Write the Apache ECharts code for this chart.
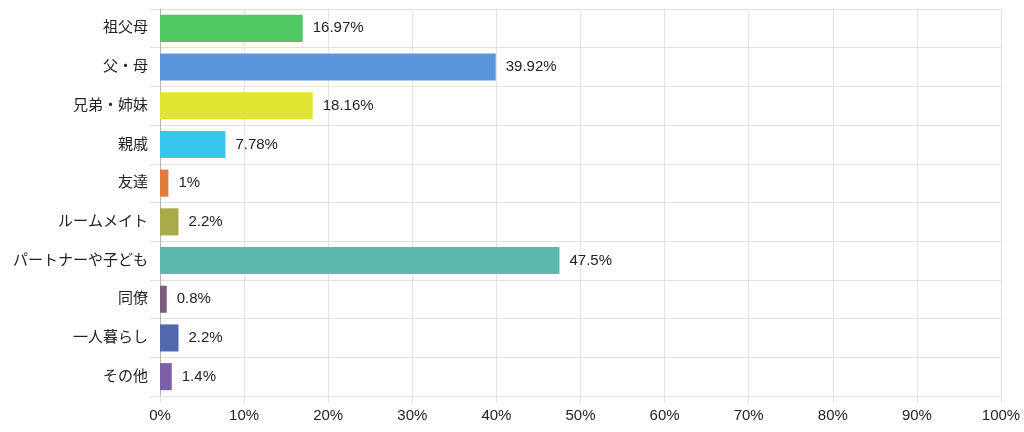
<!DOCTYPE html>
<html>
<head>
    <meta charset="utf-8">
    <title>ECharts</title>
    <style>
        html,body{margin:0;padding:0;background:#fff;}
    </style>
</head>
<body>
<div id="main" style="width:1024px;height:432px;"></div>
</body>
<script src="https://cdn.jsdelivr.net/npm/echarts@6/dist/echarts.min.js" type="text/javascript"></script>
<script type="text/javascript">

var categories=['祖父母','父・母','兄弟・姉妹','親戚','友達','ルームメイト','パートナーや子ども','同僚','一人暮らし','その他'];
var values=[16.97,39.92,18.16,7.78,1,2.2,47.5,0.8,2.2,1.4];
var colors=['#4fc763','#5b96da','#e1e531','#38c6ef','#e27c3b','#a9aa4b','#5bbaab','#7b5c7b','#5069ab','#7c5fa8'];

var myChart=echarts.init(document.getElementById('main'));

var data=[];
for(i=0;i<values.length;i++){
    data.push({value:values[i],itemStyle:{color:colors[i]}});
}

var font='Arial, "Liberation Sans", "Noto Sans CJK JP", sans-serif';

var option={
    animation:false,
    grid:{left:160,right:23,top:9,bottom:36},
    xAxis:{
        type:'value',
        min:0,
        max:100,
        interval:10,
        axisLabel:{formatter:'{value}%',color:'#222',fontSize:15,fontFamily:font,margin:12},
        axisLine:{show:false},
        axisTick:{show:true,length:7,lineStyle:{color:'#e3e3e3'}},
        splitLine:{lineStyle:{color:'#e3e3e3'}}
    },
    yAxis:{
        type:'category',
        inverse:true,
        data:categories,
        axisLabel:{color:'#222',fontSize:15,fontFamily:font,margin:12},
        axisLine:{lineStyle:{color:'#b5b5b5'}},
        axisTick:{show:true,length:10,lineStyle:{color:'#e3e3e3'}},
        splitLine:{show:true,lineStyle:{color:'#e3e3e3'}}
    },
    series:[{
        type:'bar',
        barCategoryGap:'30%',
        data:data,
        label:{
            show:true,
            position:'right',
            distance:10,
            formatter:'{c}%',
            color:'#222',
            fontSize:15,
            fontFamily:font
        }
    }]
};

myChart.setOption(option);
</script>
</html>
